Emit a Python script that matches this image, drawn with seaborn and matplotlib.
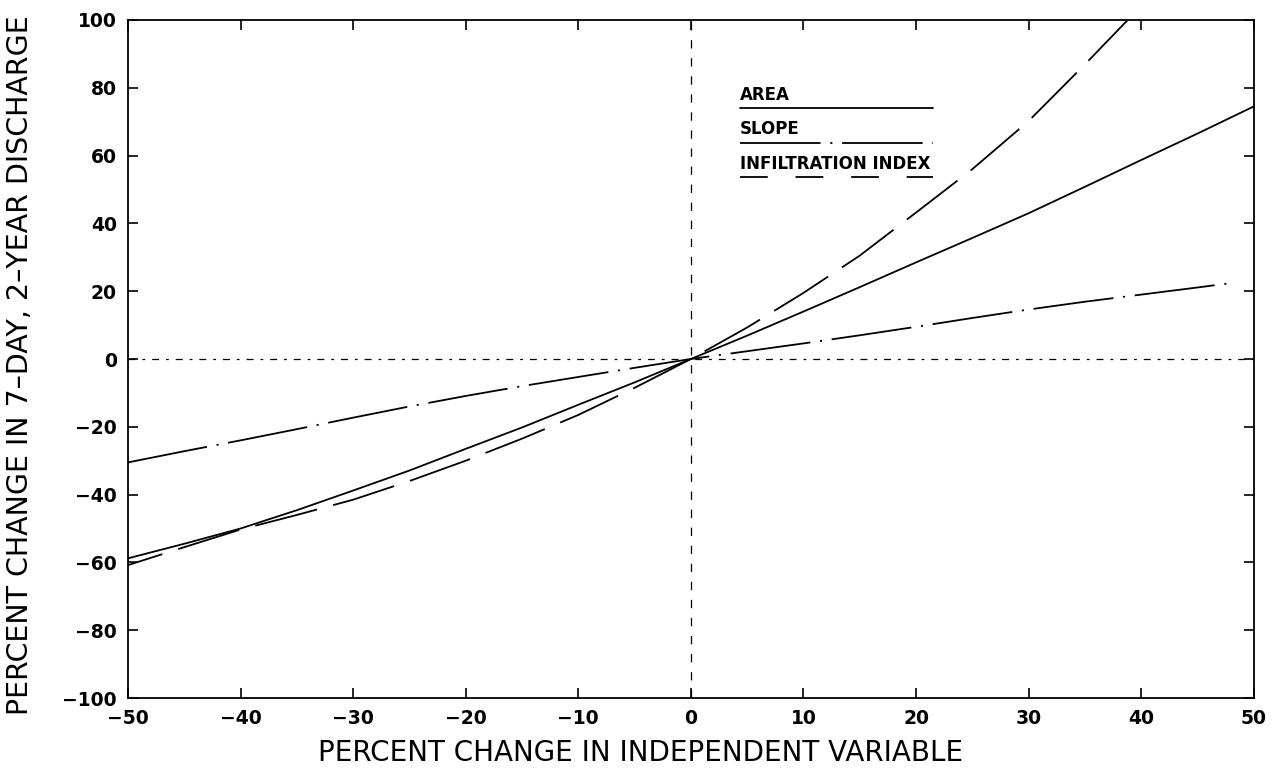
import numpy as np
import pandas as pd
import matplotlib
matplotlib.use("Agg")
import matplotlib.pyplot as plt
import seaborn as sns

# values (percent change)
area_x = [-50, -45, -40, -35, -30, -25, -20, -15, -10, -5, 0, 5, 10, 15, 20, 25, 30, 35, 40, 45, 50]
area_y = [-58.8, -54.5, -50.0, -44.6, -38.8, -32.9, -26.5, -20.2, -13.5, -6.9, 0,
          6.9, 14.0, 21.2, 28.5, 35.7, 43.0, 50.8, 58.7, 66.5, 74.5]

slope_x = [-50, -45, -40, -35, -30, -25, -20, -15, -10, -5, 0, 5, 10, 15, 20, 25, 30, 35, 40, 45, 48]
slope_y = [-30.5, -27.2, -24.0, -20.7, -17.3, -14.0, -10.9, -8.0, -5.3, -2.6, 0,
           2.3, 4.6, 7.0, 9.5, 12.1, 14.6, 16.9, 19.0, 21.1, 22.4]

infil_x = [-50, -45, -40, -35, -30, -25, -20, -15, -10, -5, 0, 5, 10, 15, 20, 25, 30, 35, 38.8]
infil_y = [-60.8, -55.5, -50.3, -46.0, -41.5, -36.0, -30.0, -23.5, -16.5, -8.5, 0,
           9.3, 19.5, 30.5, 43.2, 56.0, 70.2, 86.9, 100.0]

x_ticks = [-50, -40, -30, -20, -10, 0, 10, 20, 30, 40, 50]
y_ticks = [-100, -80, -60, -40, -20, 0, 20, 40, 60, 80, 100]

legend_labels = ["AREA", "SLOPE", "INFILTRATION INDEX"]

sns.set_style("ticks")
plt.rcParams["font.family"] = ["DejaVu Sans"]
plt.rcParams["lines.scale_dashes"] = False
for key in ["text.color", "axes.labelcolor", "xtick.color", "ytick.color", "axes.edgecolor"]:
    plt.rcParams[key] = "black"

fig = plt.figure(figsize=(12.82, 7.69), dpi=100)
ax = fig.add_subplot(111)
fig.subplots_adjust(left=0.0998, right=0.978, top=0.974, bottom=0.0923)

lw = 1.3
sns.lineplot(x=area_x, y=area_y, color="black", linewidth=lw, ax=ax)
sns.lineplot(x=slope_x, y=slope_y, color="black", linewidth=lw,
             linestyle=(0, (58, 7, 1.5, 7)), ax=ax)
sns.lineplot(x=infil_x, y=infil_y, color="black", linewidth=lw,
             linestyle=(20, (46, 12)), ax=ax)

# zero reference lines
ax.axhline(0, color="black", linewidth=0.9, linestyle=(0, (5, 5, 2, 5)))
ax.axvline(0, color="black", linewidth=0.9, linestyle=(0, (6, 7)))

ax.set_xlim(-50, 50)
ax.set_ylim(-100, 100)
ax.set_xticks(x_ticks)
ax.set_yticks(y_ticks)
ax.tick_params(direction="in", length=7, width=1.2, top=True, right=True,
               labelsize=13.5, pad=8)
for lab in ax.get_xticklabels() + ax.get_yticklabels():
    lab.set_fontweight("bold")
for sp in ax.spines.values():
    sp.set_linewidth(1.3)

ax.set_xlabel("PERCENT CHANGE IN INDEPENDENT VARIABLE", fontsize=20)
ax.set_ylabel("PERCENT CHANGE IN 7–DAY, 2–YEAR DISCHARGE", fontsize=20.5)
ax.xaxis.set_label_coords(0.455, -0.06)
ax.yaxis.set_label_coords(-0.083, 0.491)

# hand-drawn style key: label text sitting on its line sample
key_styles = ["-", (0, (58, 7, 1.5, 7)), (0, (20, 20))]
key_text_y = [0.876, 0.826, 0.775]
key_line_y = [0.870, 0.819, 0.768]
for label, ls, ty, ly in zip(legend_labels, key_styles, key_text_y, key_line_y):
    ax.text(0.5435, ty, label, transform=ax.transAxes, fontsize=12,
            fontweight="bold", ha="left", va="bottom")
    ax.plot([0.5435, 0.715], [ly, ly], transform=ax.transAxes, color="black",
            linewidth=1.3, linestyle=ls)

fig.savefig("out.png", dpi=100)
